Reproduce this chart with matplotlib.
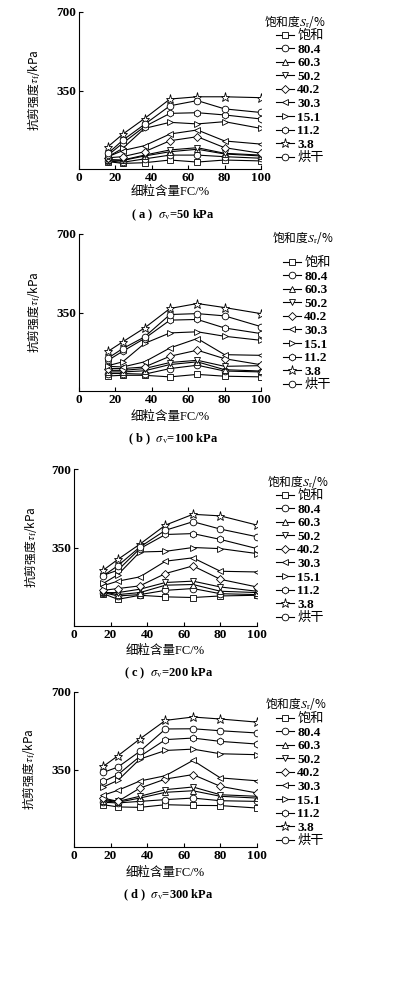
import matplotlib
matplotlib.use('Agg')
import matplotlib.pyplot as plt

plt.rcParams['mathtext.fontset'] = 'stix'
plt.rcParams['font.family'] = ['Liberation Serif', 'Noto Sans CJK SC']
CJK = 'Noto Sans CJK SC'

# ---------------- data ----------------
fc = [16, 24, 36, 50, 65, 80, 100]
series_labels = ['饱和', '80.4', '60.3', '50.2', '40.2', '30.3', '15.1', '11.2', '3.8', '烘干']
series_markers = ['s', 'o', '^', 'v', 'D', '<', '>', 'h', '*', 'o']
x_ticks = [0, 20, 40, 60, 80, 100]
y_ticks = [350, 700]
panel_titles = ['( a )  $\\sigma_\\mathrm{v}$=50 kPa', '( b )  $\\sigma_\\mathrm{v}$=100 kPa',
                '( c )  $\\sigma_\\mathrm{v}$=200 kPa', '( d )  $\\sigma_\\mathrm{v}$=300 kPa']

tau_50 = [
    [33, 25, 28, 40, 31, 40, 36],
    [36, 30, 45, 62, 62, 55, 48],
    [40, 38, 58, 77, 88, 67, 58],
    [42, 40, 62, 85, 95, 70, 62],
    [50, 55, 77, 126, 144, 95, 70],
    [55, 82, 104, 156, 174, 125, 111],
    [55, 92, 181, 208, 201, 211, 181],
    [62, 115, 189, 248, 251, 241, 223],
    [100, 155, 225, 312, 322, 322, 318],
    [70, 128, 199, 282, 305, 268, 252],
]
tau_100 = [
    [67, 70, 70, 63, 74, 66, 63],
    [78, 78, 75, 100, 115, 89, 85],
    [85, 85, 90, 118, 130, 95, 89],
    [92, 92, 100, 127, 137, 110, 113],
    [100, 100, 107, 155, 182, 144, 117],
    [110, 107, 130, 192, 234, 162, 159],
    [113, 130, 212, 259, 264, 244, 226],
    [137, 177, 234, 316, 319, 281, 256],
    [177, 219, 281, 368, 390, 372, 345],
    [147, 189, 241, 341, 345, 335, 287],
]
tau_200 = [
    [144, 119, 137, 130, 127, 134, 137],
    [149, 134, 140, 159, 167, 144, 140],
    [152, 140, 149, 182, 185, 155, 149],
    [149, 149, 164, 194, 200, 174, 155],
    [159, 167, 179, 234, 268, 208, 174],
    [180, 200, 219, 289, 304, 244, 241],
    [190, 229, 330, 333, 350, 345, 323],
    [226, 249, 345, 408, 412, 386, 345],
    [249, 297, 365, 450, 498, 491, 450],
    [224, 269, 352, 427, 465, 432, 398],
]
tau_300 = [
    [191, 181, 179, 191, 188, 187, 176],
    [202, 199, 206, 214, 221, 209, 206],
    [209, 202, 221, 247, 254, 229, 221],
    [214, 206, 229, 259, 271, 236, 229],
    [221, 206, 266, 307, 327, 274, 244],
    [234, 256, 298, 322, 391, 312, 299],
    [271, 301, 397, 436, 442, 421, 417],
    [296, 327, 409, 485, 492, 477, 465],
    [364, 412, 488, 572, 587, 578, 564],
    [337, 361, 432, 533, 534, 525, 515],
]
panels = [tau_50, tau_100, tau_200, tau_300]

# ---------------- layout (pixels) ----------------
W, H = 399, 998
fig = plt.figure(figsize=(W / 100, H / 100), dpi=100)

# left, right, top, bottom of axes; legend title (x, y); legend handle left x; first entry y;
# ylabel x; xlabel y; title y
layout = [
    (79, 261, 12, 169, 264, 21, 276, 36, 42, 192, 215),
    (79, 261, 234, 391, 272, 238, 283, 263, 42, 417, 439),
    (74, 257, 469, 626, 267, 481, 276, 496, 39, 651, 673),
    (74, 257, 692, 847, 265, 703, 276, 719, 37, 873, 895),
]

def fx(px):
    return px / W

def fy(py):
    return 1 - py / H

for data, title, lay in zip(panels, panel_titles, layout):
    l, r, t, b, ltx, lty, lhx, ley, ylx, xly, ty = lay
    ax = fig.add_axes([fx(l), fy(b), (r - l) / W, (b - t) / H])
    handles = []
    for vals, lab, mk in zip(data, series_labels, series_markers):
        ms = {'*': 6.5, 'D': 3.8, 'h': 5, 's': 4.3}.get(mk, 4.8)
        h, = ax.plot(fc, vals, color='black', lw=0.8, marker=mk, ms=ms,
                     mfc='white', mec='black', mew=0.6, label=lab)
        handles.append(h)
    ax.set_xlim(0, 100)
    ax.set_ylim(0, 700)
    ax.set_xticks(x_ticks)
    ax.set_yticks(y_ticks)
    ax.tick_params(direction='in', length=3, width=0.8, labelsize=9.5, pad=2)
    for lbl in ax.get_xticklabels() + ax.get_yticklabels():
        lbl.set_fontweight('bold')
    for s in ['top', 'right']:
        ax.spines[s].set_visible(False)
    for s in ['left', 'bottom']:
        ax.spines[s].set_linewidth(0.8)
    ax.set_ylabel('抗剪强度$\\tau_\\mathrm{f}$/kPa', fontsize=8.5, family=CJK)
    ax.yaxis.set_label_coords((ylx - l) / (r - l), 0.5)
    fig.text(fx((l + r) / 2), fy(xly), '细粒含量FC/%', fontsize=9,
             ha='center', va='center')
    fig.text(fx((l + r) / 2 + 3), fy(ty), title, fontsize=9, weight='bold',
             ha='center', va='center')
    fig.text(fx(ltx), fy(lty), '饱和度$S_\\mathrm{r}$/%', fontsize=8.5, family=CJK,
             ha='left', va='center')
    leg = ax.legend(handles, series_labels, loc='upper left',
                    bbox_to_anchor=(fx(lhx), fy(ley - 6)), bbox_transform=fig.transFigure,
                    frameon=False, borderpad=0, borderaxespad=0, handlelength=1.35,
                    handletextpad=0.25, labelspacing=0.1,
                    prop={'size': 9.5})
    for txt in leg.get_texts():
        if txt.get_text()[0].isdigit():
            txt.set_fontweight('bold')

fig.savefig('out.png', dpi=100)
